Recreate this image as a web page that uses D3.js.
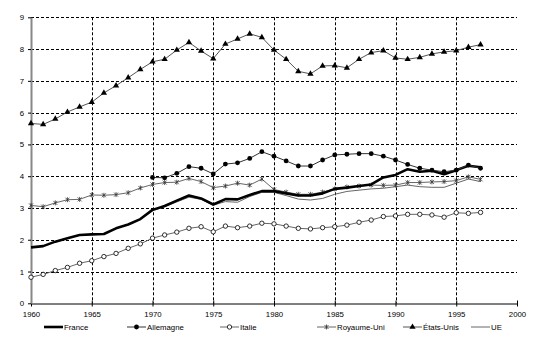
<!DOCTYPE html>
<html>
<head>
<meta charset="utf-8">
<script src="https://cdn.jsdelivr.net/npm/d3@7"></script>
<style>
  html, body { margin: 0; padding: 0; background: #fff; }
  svg { display: block; font-family: "Liberation Sans", Arial, sans-serif; }
</style>
</head>
<body>
<svg id="chart" width="537" height="349"></svg>
<script>
// Years
const yearsFull = d3.range(1960, 1998);
const yearsFrom1970 = d3.range(1970, 1998);

// Series values
const france = [1.76, 1.80, 1.94, 2.05, 2.15, 2.17, 2.18, 2.36, 2.48, 2.65, 2.94,
  3.06, 3.23, 3.39, 3.30, 3.11, 3.28, 3.27, 3.41, 3.53, 3.53, 3.46, 3.39, 3.39,
  3.46, 3.60, 3.64, 3.69, 3.74, 3.96, 4.04, 4.22, 4.14, 4.17, 4.06, 4.19, 4.33, 4.28];
const allemagne = [3.96, 3.95, 4.09, 4.30, 4.25, 4.07, 4.38, 4.42, 4.56, 4.77,
  4.63, 4.48, 4.32, 4.32, 4.51, 4.67, 4.69, 4.71, 4.71, 4.63, 4.51, 4.37, 4.25,
  4.19, 4.14, 4.19, 4.35, 4.25];
const italie = [0.82, 0.91, 1.03, 1.13, 1.26, 1.34, 1.47, 1.57, 1.73, 1.87, 2.05,
  2.15, 2.24, 2.36, 2.41, 2.25, 2.43, 2.38, 2.43, 2.52, 2.50, 2.43, 2.36, 2.34,
  2.38, 2.41, 2.46, 2.55, 2.62, 2.73, 2.75, 2.80, 2.80, 2.78, 2.71, 2.85, 2.83, 2.86];
const royaumeUni = [3.08, 3.04, 3.16, 3.26, 3.27, 3.41, 3.40, 3.42, 3.48, 3.63, 3.74,
  3.80, 3.81, 3.93, 3.83, 3.64, 3.69, 3.78, 3.72, 3.91, 3.58, 3.50, 3.43, 3.43,
  3.50, 3.60, 3.66, 3.69, 3.72, 3.71, 3.72, 3.80, 3.80, 3.82, 3.83, 3.86, 3.98, 3.90];
const etatsUnis = [5.66, 5.63, 5.80, 6.02, 6.18, 6.33, 6.62, 6.85, 7.10, 7.36, 7.60,
  7.68, 7.97, 8.21, 7.94, 7.70, 8.16, 8.32, 8.48, 8.37, 7.97, 7.68, 7.30, 7.22,
  7.47, 7.48, 7.41, 7.68, 7.89, 7.95, 7.72, 7.68, 7.74, 7.85, 7.91, 7.95, 8.06, 8.14];
const ue = [2.91, 3.04, 3.19, 3.34, 3.27, 3.09, 3.20, 3.18, 3.36, 3.49, 3.49, 3.39,
  3.28, 3.25, 3.30, 3.43, 3.52, 3.56, 3.60, 3.62, 3.67, 3.72, 3.67, 3.65, 3.65,
  3.78, 3.91, 3.83];

// Axis ticks
const xTicks = [1960, 1965, 1970, 1975, 1980, 1985, 1990, 1995, 2000];
const yTicks = [0, 1, 2, 3, 4, 5, 6, 7, 8, 9];

const series = [
  { name: "France", years: yearsFull, values: france, color: "#000", width: 2.6, marker: "none" },
  { name: "Allemagne", years: yearsFrom1970, values: allemagne, color: "#333", width: 1, marker: "dot" },
  { name: "Italie", years: yearsFull, values: italie, color: "#666", width: 1, marker: "circle" },
  { name: "Royaume-Uni", years: yearsFull, values: royaumeUni, color: "#666", width: 1, marker: "star" },
  { name: "États-Unis", years: yearsFull, values: etatsUnis, color: "#555", width: 1, marker: "triangle" },
  { name: "UE", years: yearsFrom1970, values: ue, color: "#666", width: 1, marker: "none" }
];

const svg = d3.select("#chart");
const x = d3.scaleLinear().domain([1960, 2000]).range([31, 517]);
const y = d3.scaleLinear().domain([0, 9]).range([303.3, 17.3]);

// Dashed grid
const grid = svg.append("g");
grid.selectAll("line.h").data(yTicks.filter(v => v > 0)).join("line")
  .attr("x1", x(1960)).attr("x2", x(2000))
  .attr("y1", d => Math.round(y(d)) + 0.5).attr("y2", d => Math.round(y(d)) + 0.5)
  .attr("stroke", "#000").attr("stroke-width", 1).attr("stroke-dasharray", "3,2");
grid.selectAll("line.v").data(xTicks.filter(v => v > 1960 && v < 2000)).join("line")
  .attr("x1", d => Math.round(x(d)) + 0.5).attr("x2", d => Math.round(x(d)) + 0.5)
  .attr("y1", y(9)).attr("y2", y(0))
  .attr("stroke", "#000").attr("stroke-width", 1).attr("stroke-dasharray", "3,2");

// Axes
const xAxis = d3.axisBottom(x).tickValues(xTicks).tickFormat(d3.format("d"))
  .tickSizeInner(3).tickSizeOuter(0).tickPadding(5);
const gx = svg.append("g").attr("transform", `translate(0,${Math.round(y(0)) + 0.5})`).call(xAxis);
gx.select(".domain").attr("stroke", "#000");
gx.selectAll(".tick line").attr("y1", -3).attr("y2", 3);
gx.selectAll("text").attr("font-size", 7.8).attr("fill", "#000");

const yAxis = d3.axisLeft(y).tickValues(yTicks).tickSizeInner(3).tickSizeOuter(0).tickPadding(4);
const gy = svg.append("g").attr("transform", `translate(${Math.round(x(1960))},0)`).call(yAxis);
gy.select(".domain").attr("stroke", "#888").attr("stroke-width", 2);
gy.selectAll(".tick line").attr("x1", -3).attr("x2", 0);
gy.selectAll("text").attr("font-size", 7.8).attr("fill", "#000");

// Markers
function drawMarker(g, type, cx, cy) {
  if (type === "dot") {
    g.append("circle").attr("cx", cx).attr("cy", cy).attr("r", 2.4).attr("fill", "#000");
  } else if (type === "circle") {
    g.append("circle").attr("cx", cx).attr("cy", cy).attr("r", 2.2)
      .attr("fill", "#fff").attr("stroke", "#000").attr("stroke-width", 0.8);
  } else if (type === "triangle") {
    g.append("path").attr("d", d3.symbol(d3.symbolTriangle, 17)())
      .attr("transform", `translate(${cx},${cy})`).attr("fill", "#000");
  } else if (type === "star") {
    g.append("path")
      .attr("d", `M${cx - 2},${cy - 2}L${cx + 2},${cy + 2}M${cx - 2},${cy + 2}L${cx + 2},${cy - 2}M${cx},${cy - 2.5}L${cx},${cy + 2.5}`)
      .attr("stroke", "#333").attr("stroke-width", 0.8).attr("fill", "none");
  }
}

const line = d3.line().x(d => x(d[0])).y(d => y(d[1]));
const drawOrder = ["Italie", "UE", "Royaume-Uni", "France", "Allemagne", "États-Unis"];
drawOrder.forEach(n => {
  const s = series.find(t => t.name === n);
  const pts = s.years.map((yr, i) => [yr, s.values[i]]);
  const g = svg.append("g");
  g.append("path").datum(pts).attr("d", line)
    .attr("fill", "none").attr("stroke", s.color).attr("stroke-width", s.width)
    .attr("stroke-linejoin", "round");
  pts.forEach(p => drawMarker(g, s.marker, x(p[0]), y(p[1])));
});

// Legend
const legendX = [44, 127, 220, 317, 403, 471];
const legend = svg.append("g");
series.forEach((s, i) => {
  const lx = legendX[i], ly = 327;
  legend.append("line").attr("x1", lx).attr("x2", lx + 19).attr("y1", ly).attr("y2", ly)
    .attr("stroke", s.color).attr("stroke-width", s.width);
  drawMarker(legend, s.marker, lx + 9.5, ly);
  legend.append("text").attr("x", lx + 20).attr("y", ly + 3).attr("font-size", 7.8)
    .attr("fill", "#000").text(s.name);
});
</script>
</body>
</html>
